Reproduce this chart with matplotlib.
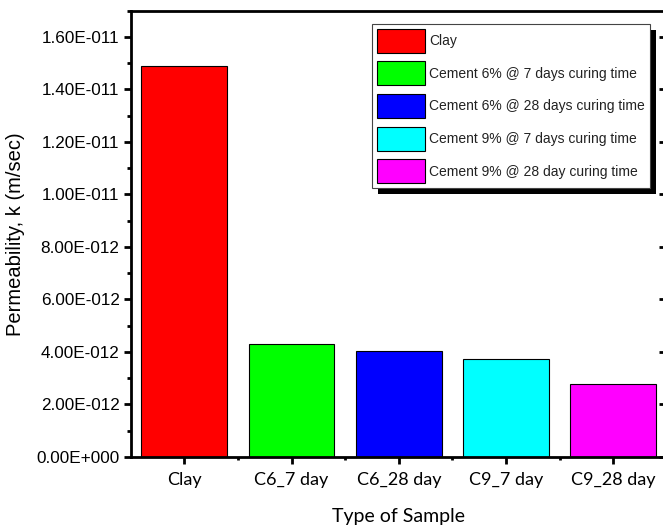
import numpy as np
import matplotlib
matplotlib.use("Agg")
import matplotlib.pyplot as plt
from matplotlib.patches import Rectangle
from matplotlib.ticker import FuncFormatter, MultipleLocator

# data
samples = ["Clay", "C6_7 day", "C6_28 day", "C9_7 day", "C9_28 day"]
permeability = [1.49e-11, 4.32e-12, 4.02e-12, 3.72e-12, 2.77e-12]
legend_labels = ["Clay",
                 "Cement 6% @ 7 days curing time",
                 "Cement 6% @ 28 days curing time",
                 "Cement 9% @ 7 days curing time",
                 "Cement 9% @ 28 day curing time"]
bar_colors = ["#ff0000", "#00ff00", "#0000ff", "#00ffff", "#ff00ff"]

W, H = 663, 528
fig = plt.figure(figsize=(W / 100, H / 100), dpi=100)
# right spine sits just outside the picture, as in the reference crop
ax = fig.add_axes([130.7 / W, 71 / H, (667 - 130.7) / W, (457 - 10.7) / H])

x = np.arange(len(samples))
bars = ax.bar(x, permeability, width=0.8, color=bar_colors,
              edgecolor="black", linewidth=0.8, zorder=2)

ax.set_xlim(-0.5, len(samples) - 0.5)
ax.set_ylim(0, 1.7e-11)


def origin_sci(v, pos):
    if v == 0:
        return "0.00E+000"
    exp = int(np.floor(np.log10(abs(v))))
    mant = v / 10 ** exp
    sign = "-" if exp < 0 else "+"
    return f"{mant:.2f}E{sign}{abs(exp):03d}"


ax.yaxis.set_major_locator(MultipleLocator(2e-12))
ax.yaxis.set_minor_locator(MultipleLocator(1e-12))
ax.yaxis.set_major_formatter(FuncFormatter(origin_sci))
ax.yaxis.get_offset_text().set_visible(False)

ax.set_xticks(x)
ax.set_xticklabels(samples, fontfamily="Lato", fontsize=13)
ax.set_xticks(x[:-1] + 0.5, minor=True)

for lbl in ax.get_yticklabels():
    lbl.set_fontfamily("Liberation Sans")
    lbl.set_fontsize(12.3)

ax.tick_params(axis="y", which="major", direction="out", length=5,
               width=2, pad=3)
ax.tick_params(axis="y", which="minor", direction="out", length=3, width=2)
ax.tick_params(axis="x", which="major", direction="out", length=5,
               width=2, pad=6)
ax.tick_params(axis="x", which="minor", direction="out", length=2, width=2)
for spine in ax.spines.values():
    spine.set_linewidth(2)

# mirrored major ticks on the right side, pointing inward
axr = ax.twinx()
axr.set_ylim(ax.get_ylim())
axr.yaxis.set_major_locator(MultipleLocator(2e-12))
axr.yaxis.set_major_formatter(FuncFormatter(lambda v, pos: ""))
axr.yaxis.get_offset_text().set_visible(False)
axr.tick_params(axis="y", which="major", direction="in", length=6,
                width=2, labelright=False)
for spine in axr.spines.values():
    spine.set_visible(False)

ax.set_ylabel("Permeability, k (m/sec)", fontfamily="Liberation Sans",
              fontsize=14.5, labelpad=8)
ax.set_xlabel("Type of Sample", fontfamily="Lato", fontsize=14,
              labelpad=14)

leg = axr.legend(bars, legend_labels, loc="upper right",
                 bbox_to_anchor=(650 / W, 1 - 24 / H),
                 bbox_transform=fig.transFigure,
                 prop={"family": "Liberation Sans", "size": 10},
                 fancybox=False, framealpha=1, edgecolor="#444444",
                 handlelength=3.45, handleheight=2.28, handletextpad=0.35,
                 labelspacing=0.62, borderpad=0.35, borderaxespad=0)
leg.get_frame().set_linewidth(0.8)
for t in leg.get_texts():
    t.set_color("#222222")
leg.set_zorder(5)

# black drop shadow behind the legend box
fig.canvas.draw()
bb = leg.get_window_extent()
shadow = Rectangle((bb.x0 + 6, bb.y0 - 6), bb.width, bb.height,
                   transform=None, facecolor="black", edgecolor="none",
                   zorder=4)
axr.add_artist(shadow)

fig.savefig("out.png", dpi=100)
